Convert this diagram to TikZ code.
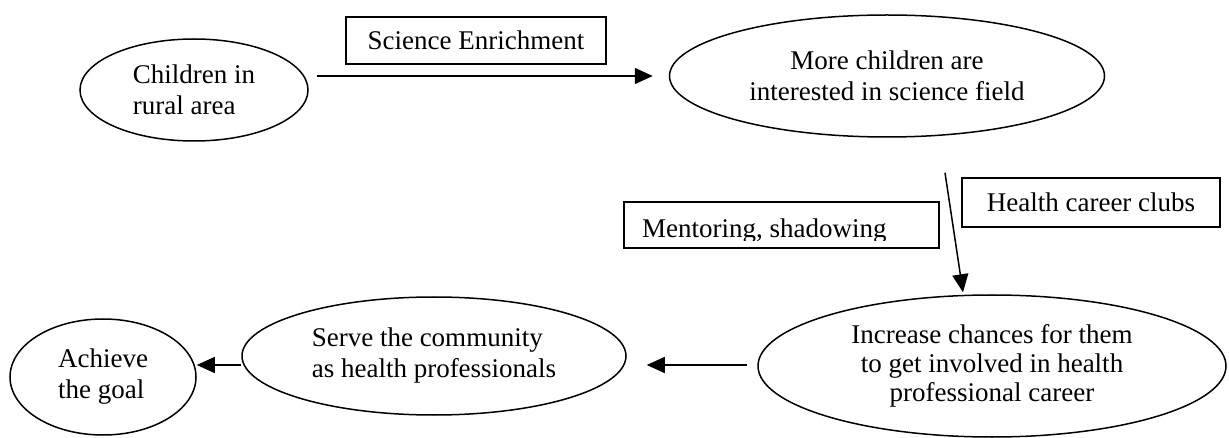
\documentclass[tikz,border=0pt]{standalone}
\usepackage{fontspec}
\setmainfont{Liberation Serif}
\usetikzlibrary{shapes.geometric, arrows.meta}

\tikzset{
  bubble/.style={draw, ellipse, line width=1.5pt, inner sep=0pt, align=left},
  tag/.style={draw, rectangle, line width=1.5pt, inner sep=0pt},
  flow/.style={line width=1.5pt, -{Triangle[length=18pt, width=16pt]}}
}

\begin{document}
\begin{tikzpicture}[x=1pt, y=-1pt, font=\fontsize{27}{31}\selectfont]
  \useasboundingbox[fill=white] (0, 0) rectangle (1229, 438);

  \node[bubble, minimum width=228pt, minimum height=102pt] (rural) at (194, 90) {Children in\\rural area};
  \node[bubble, align=center, minimum width=435pt, minimum height=122pt] (keen) at (887, 76) {More children are\\interested in science field};
  \node[bubble, align=center, minimum width=468pt, minimum height=142pt, font=\fontsize{27}{29}\selectfont] (chance) at (992, 366) {Increase chances for them\\to get involved in health\\professional career};
  \node[bubble, minimum width=384pt, minimum height=118pt] (serve) at (434, 356) {Serve the community\\as health professionals};
  \node[bubble, minimum width=186pt, minimum height=116pt] (goal) at (103, 377) {Achieve\\the goal};

  \node[tag, minimum width=260pt, minimum height=47pt] (enrich) at (476, 40.5) {Science Enrichment};
  \node[tag, minimum width=258pt, minimum height=49pt] (clubs) at (1091, 202.5) {Health career clubs};
  \node[tag, minimum width=315pt, minimum height=46pt] (mentor) at (781.5, 225) {};
  \begin{scope}
    \clip (mentor.north west) rectangle ([yshift=8pt]mentor.south east);
    \node[anchor=base west, inner sep=0pt] (mentortext) at (642, 238) {Mentoring, shadowing};
  \end{scope}

  \draw[flow] ([shift={(8, -14)}]rural.east) -- ([shift={(-16, 0)}]keen.west);
  \draw[flow] ([shift={(58, 35)}]keen.south) -- ([shift={(-29, -2)}]chance.north);
  \draw[flow] ([shift={(-10, -1)}]chance.west) -- ([shift={(20, 9)}]serve.east);
  \draw[flow] ([shift={(0, 9)}]serve.west) -- ([shift={(0, -12)}]goal.east);
\end{tikzpicture}
\end{document}
